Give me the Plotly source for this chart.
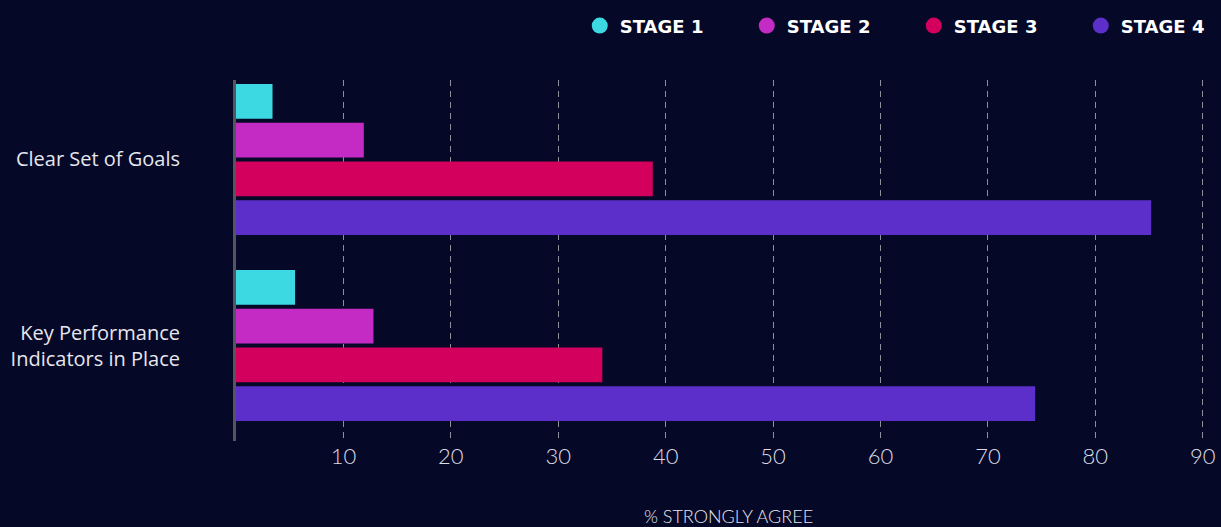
import plotly.graph_objects as go

categories = ["Clear Set of Goals", "Key Performance<br>Indicators in Place"]
stages = ["STAGE 1", "STAGE 2", "STAGE 3", "STAGE 4"]
stage1 = [3.4, 5.5]
stage2 = [11.9, 12.8]
stage3 = [38.8, 34.1]
stage4 = [85.2, 74.4]
series = [stage1, stage2, stage3, stage4]
colors = ["#3dd9e3", "#c42ac4", "#d4005e", "#5c2fca"]
x_ticks = [10, 20, 30, 40, 50, 60, 70, 80, 90]

BG = "#050826"
fig = go.Figure()

for name, vals, col in zip(stages, series, colors):
    fig.add_trace(go.Bar(
        y=categories, x=vals, name=name, orientation="h",
        marker=dict(color=col, line=dict(width=0)),
        showlegend=False,
    ))

# legend entries with round markers
for name, col in zip(stages, colors):
    fig.add_trace(go.Scatter(
        x=[None], y=[None], mode="markers", name=name,
        marker=dict(symbol="circle", size=24, color=col),
        showlegend=True,
    ))

fig.update_layout(
    width=1221, height=527,
    paper_bgcolor=BG, plot_bgcolor=BG,
    margin=dict(l=236, r=0, t=80, b=86, autoexpand=False),
    barmode="group", bargap=0.167, bargroupgap=0.1,
    showlegend=True,
    legend=dict(
        orientation="h", x=0.349, xanchor="left", y=1.15, yanchor="middle",
        font=dict(family="DejaVu Sans, sans-serif", size=18, color="#ffffff", weight="bold"),
        bgcolor="rgba(0,0,0,0)", entrywidth=122, entrywidthmode="pixels",
        itemsizing="trace",
    ),
    xaxis=dict(
        range=[0, 91.7], tickvals=x_ticks, ticktext=[str(v) for v in x_ticks],
        showgrid=True, gridcolor="#8f8f9c", griddash="6px,5px", gridwidth=1,
        zeroline=False, showline=False, ticks="",
        tickfont=dict(family="Lato, Open Sans, sans-serif", size=22, color="#dcdce6", weight=300),
        title=dict(text="% STRONGLY AGREE", standoff=43,
                   font=dict(family="Lato, Open Sans, sans-serif", size=18, color="#e6e6ee", weight=300)),
        fixedrange=True,
    ),
    yaxis=dict(
        categoryorder="array", categoryarray=categories,
        range=[1.513, -0.427],
        showgrid=False, zeroline=False,
        showline=True, linecolor="#55555f", linewidth=3,
        ticks="", ticklabelstandoff=49,
        tickfont=dict(family="Open Sans, sans-serif", size=20, color="#e6e6ee"),
        fixedrange=True,
    ),
)

fig.write_html(
    "out.html",
    config={"displayModeBar": False},
    post_script="document.body.style.margin='0';document.body.style.background='#050826';",
)
